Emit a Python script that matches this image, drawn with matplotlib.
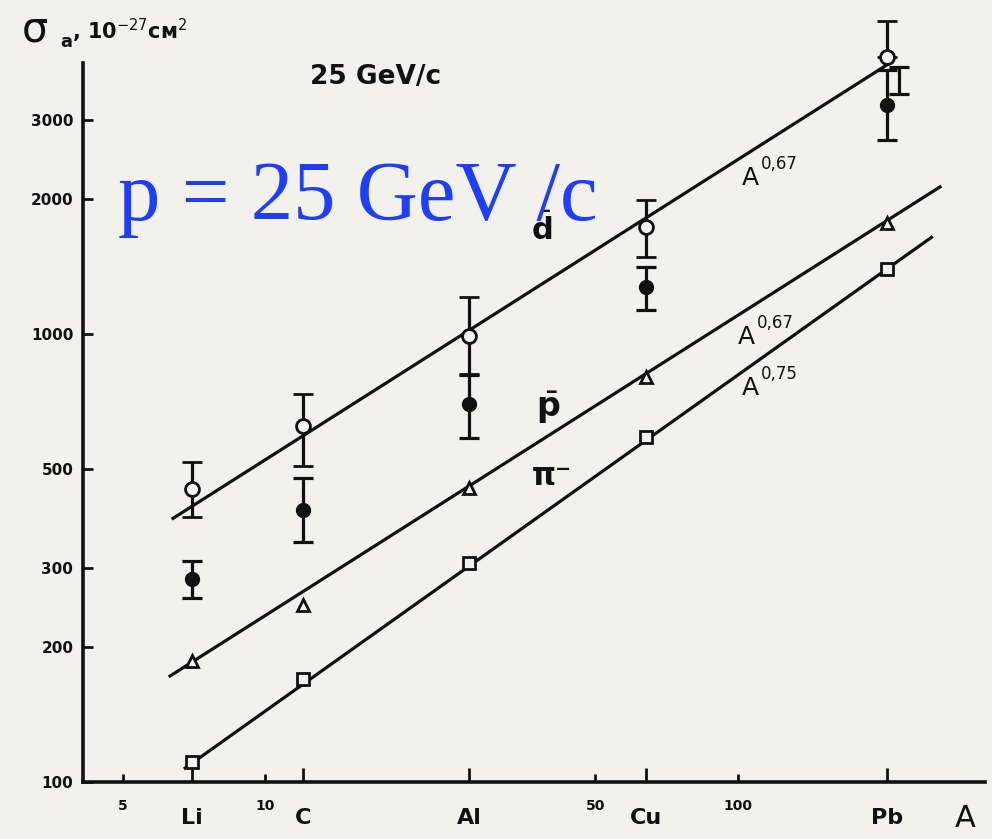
import matplotlib.pyplot as plt
from matplotlib.ticker import FixedLocator, NullFormatter
import numpy as np

# mass numbers of the targets
elements = ["Li", "C", "Al", "Cu", "Pb"]
A = np.array([7, 12, 27, 64, 207])

# anti-deuteron, open circles (value, lower, upper)
d_open = np.array([451, 623, 990, 1733, 4150])
d_open_lo = np.array([390, 507, 814, 1486, 3434])
d_open_hi = np.array([518, 735, 1209, 1991, 4996])

# anti-deuteron, filled circles
d_fill = np.array([284, 405, 698, 1274, 3244])
d_fill_lo = np.array([257, 343, 586, 1131, 2710])
d_fill_hi = np.array([311, 477, 810, 1411, 3882])

# antiprotons (triangles) and pi- (squares)
pbar = np.array([186, 249, 453, 802, 1769])
pim = np.array([111, 170, 308, 589, 1396])

# fitted power laws: coefficient, exponent, A range
fits = {
    "d": (112, 0.67, 6.38, 240),
    "pbar": (50.3, 0.67, 6.29, 268),
    "pi": (25.6, 0.75, 6.77, 257),
}

number_ticks = [5, 10, 50, 100]
y_ticks = [100, 200, 300, 500, 1000, 2000, 3000]

bg = "#f3f1ec"
ink = "#111111"

fig = plt.figure(figsize=(9.92, 8.39), dpi=100, facecolor=bg)
ax = fig.add_axes([83 / 992, 57 / 839, 902 / 992, 719 / 839])
ax.set_facecolor(bg)
ax.set_xscale("log")
ax.set_yscale("log")
ax.set_xlim(4.115, 333.7)
ax.set_ylim(100, 4027)

for key, (c, alpha, a0, a1) in fits.items():
    aa = np.array([a0, a1])
    ax.plot(aa, c * aa ** alpha, color=ink, lw=2.3, zorder=2)

eb = dict(ecolor=ink, elinewidth=2.3, capsize=7, capthick=2.3, zorder=4, clip_on=False)
# open circles: upper bars at the point, lower bar of Pb drawn slightly to the right as in the scan
up = d_open_hi - d_open
lo = d_open - d_open_lo
lo_main = lo.copy()
lo_main[-1] = 0
ax.errorbar(A, d_open, yerr=[lo_main, up], fmt="o", ms=10, mfc=bg, mec=ink, mew=2, **eb)
ax.errorbar(A[-1:] * 1.06, d_open[-1:] * 0.95, yerr=[[d_open[-1] * 0.95 - d_open_lo[-1]], [0]],
            fmt="none", **eb)
ax.errorbar(A, d_fill, yerr=[d_fill - d_fill_lo, d_fill_hi - d_fill], fmt="o",
            ms=10, mfc=ink, mec=ink, **eb)
ax.plot(A, pbar, "^", ms=9, mfc=bg, mec=ink, mew=2, zorder=4)
ax.plot(A, pim, "s", ms=8.5, mfc=bg, mec=ink, mew=2, zorder=4)

for s in ["top", "right"]:
    ax.spines[s].set_visible(False)
for s in ["left", "bottom"]:
    ax.spines[s].set_linewidth(2.6)
    ax.spines[s].set_color(ink)

ax.yaxis.set_major_locator(FixedLocator(y_ticks))
ax.yaxis.set_minor_locator(FixedLocator([]))
ax.set_yticklabels([str(v) for v in y_ticks])
ax.tick_params(axis="y", which="major", direction="in", length=7, width=2,
               pad=7, labelsize=11, colors=ink)
for lab in ax.get_yticklabels():
    lab.set_fontweight("bold")

ax.xaxis.set_major_locator(FixedLocator(A))
ax.xaxis.set_major_formatter(NullFormatter())
ax.xaxis.set_minor_locator(FixedLocator(number_ticks))
ax.xaxis.set_minor_formatter(NullFormatter())
ax.tick_params(axis="x", which="major", direction="in", length=10, width=2, colors=ink)
ax.tick_params(axis="x", which="minor", direction="in", length=6, width=2, colors=ink)

xt = ax.get_xaxis_transform()
for v in number_ticks:
    ax.annotate(str(v), xy=(v, 0), xycoords=xt, xytext=(0, -17), textcoords="offset points",
                ha="center", va="center", fontsize=10, fontweight="bold", color=ink)
for a, name in zip(A, elements):
    ax.annotate(name, xy=(a, 0), xycoords=xt, xytext=(0, -26), textcoords="offset points",
                ha="center", va="center", fontsize=16, fontweight="bold", color=ink)
ax.annotate("A", xy=(1, 0), xycoords="axes fraction", xytext=(-14, -26),
            textcoords="offset points", ha="center", va="center", fontsize=22, color=ink)

# axis title
fig.text(22 / 992, 1 - 30 / 839, "σ", fontsize=30, color=ink, va="center")
fig.text(60 / 992, 1 - 42 / 839, "a", fontsize=13, fontweight="bold", color=ink, va="center")
fig.text(72 / 992, 1 - 31 / 839, r", 10$^{-27}$см$^{2}$", fontsize=15, fontweight="bold",
         color=ink, va="center")

ax.text(17.1, 3750, "25 GeV/c", fontsize=19, fontweight="bold", ha="center", va="center", color=ink)

# curve labels
ax.text(38.5, 1714, r"$\bar{\mathbf{d}}$", fontsize=22, ha="center", va="center", color=ink)
ax.text(39.7, 684, r"$\bar{\mathbf{p}}$", fontsize=24, ha="center", va="center", color=ink)
ax.text(40.5, 480, "π⁻", fontsize=22, fontweight="bold", ha="center", va="center", color=ink)
for x0, y0, power in [(102, 2228, "0,67"), (100.1, 985, "0,67"), (102, 757, "0,75")]:
    ax.annotate("A", xy=(x0, y0), ha="left", va="center", fontsize=18, color=ink)
    ax.annotate(power, xy=(x0, y0), xytext=(14, 10), textcoords="offset points",
                ha="left", va="center", fontsize=12, color=ink)

# blue overlay
fig.text(118 / 992, 1 - 220 / 839, "p = 25 GeV /c", fontsize=61, family="Liberation Serif",
         color="#1f3dff", ha="left", va="baseline")

fig.savefig("out.png", dpi=100, facecolor=bg)
